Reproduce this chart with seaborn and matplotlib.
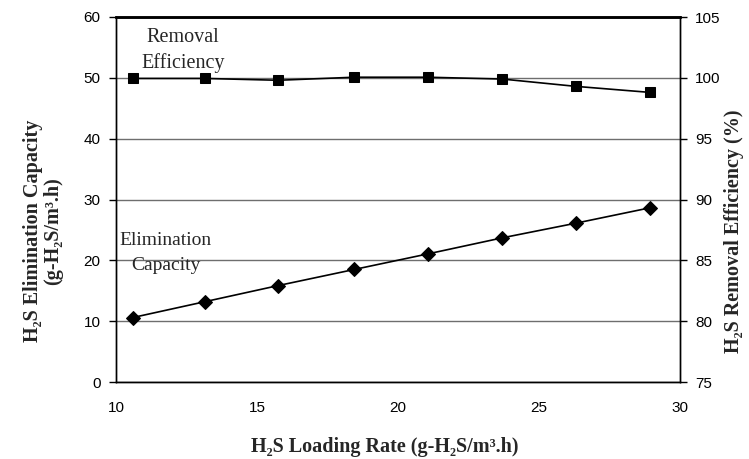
import matplotlib

matplotlib.use("Agg")
import matplotlib.pyplot as plt
import seaborn as sns
import pandas as pd

# --- datos ---
loading_rate = [10.6, 13.15, 15.75, 18.45, 21.05, 23.7, 26.3, 28.95]
elim_capacity = [10.6, 13.2, 15.85, 18.5, 21.05, 23.7, 26.1, 28.65]
removal_eff = [99.95, 99.95, 99.8, 100.05, 100.05, 99.9, 99.3, 98.8]

left_ticks = [0, 10, 20, 30, 40, 50, 60]
right_ticks = [75, 80, 85, 90, 95, 100, 105]
x_ticks = [10, 15, 20, 25, 30]

df = pd.DataFrame({"rate": loading_rate, "ec": elim_capacity, "re": removal_eff})

sns.set_style("white")
plt.rcParams["font.family"] = ["Liberation Sans", "DejaVu Sans"]
serif = ["Liberation Serif", "DejaVu Serif"]

W, H = 749, 459
fig = plt.figure(figsize=(W / 100, H / 100), dpi=100)
ax = fig.add_axes([116 / W, 1 - 382 / H, 564 / W, 365 / H])
ax2 = ax.twinx()

sns.lineplot(data=df, x="rate", y="ec", ax=ax, color="black", marker="D",
             markersize=7, linewidth=1.2, markeredgecolor="black", zorder=3)
sns.lineplot(data=df, x="rate", y="re", ax=ax2, color="black", marker="s",
             markersize=7.2, linewidth=1.2, markeredgecolor="black", zorder=3)

ax.set_xlim(10, 30)
ax.set_ylim(0, 60)
ax2.set_ylim(75, 105)
ax.set_xticks(x_ticks)
ax.set_yticks(left_ticks)
ax2.set_yticks(right_ticks)

ax.yaxis.grid(True, color="#6e6e6e", linewidth=1.0)
ax.set_axisbelow(True)

for a in (ax, ax2):
    for s in a.spines.values():
        s.set_color("black")
        s.set_linewidth(1.0)
    a.spines["top"].set_linewidth(1.8)
ax.tick_params(axis="y", direction="out", length=5, width=1, colors="black",
               labelsize=11, pad=6)
ax2.tick_params(axis="y", direction="out", length=5, width=1, colors="black",
                labelsize=11, pad=6)
ax.tick_params(axis="x", direction="out", length=3, width=1, colors="black",
               labelsize=11, pad=11)
ax.set_xlabel("")
ax.set_ylabel("")
ax2.set_ylabel("")

# titulos de ejes
fig.text(385 / W, 1 - 452 / H, "H₂S Loading Rate (g-H₂S/m³.h)", family=serif,
         fontweight="bold", fontsize=14.5, ha="center", va="baseline")
fig.text(43 / W, 1 - 231 / H, "H₂S Elimination Capacity\n(g-H₂S/m³.h)",
         family=serif, fontweight="bold", fontsize=14.5, ha="center",
         va="center", rotation=90, linespacing=1.0)
fig.text(734 / W, 1 - 231 / H, "H₂S Removal Efficiency (%)", family=serif,
         fontweight="bold", fontsize=14.5, ha="center", va="center",
         rotation=90)

# etiquetas de series
ax.text(12.38, 55.85, "Removal", family=serif, fontsize=14.5,
        ha="center", va="baseline")
ax.text(12.38, 51.57, "Efficiency", family=serif, fontsize=14.5,
        ha="center", va="baseline")
ax.text(11.77, 22.5, "Elimination", family=serif, fontsize=14,
        ha="center", va="baseline")
ax.text(11.77, 18.4, "Capacity", family=serif, fontsize=14,
        ha="center", va="baseline")

fig.savefig("out.png", dpi=100)
